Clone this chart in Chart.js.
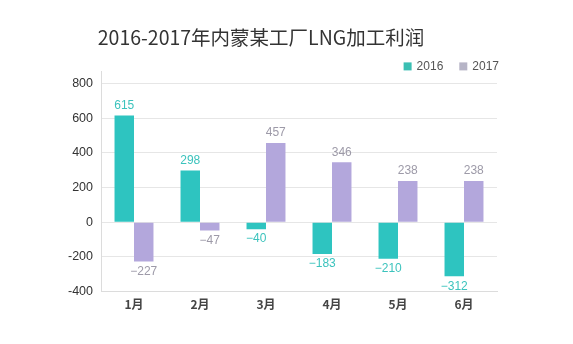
<!DOCTYPE html>
<html lang="zh">
<head>
  <meta charset="UTF-8">
  <title>2016-2017年内蒙某工厂LNG加工利润</title>
  <script src="https://cdn.jsdelivr.net/npm/chart.js"></script>
  <style>
    html, body { margin: 0; padding: 0; background: #fff; }
    #wrap { position: relative; width: 573px; height: 344px; }
  </style>
</head>
<body>
<div id="wrap"><canvas id="profitChart"></canvas></div>

<script>
  // data
  const months = ['1月', '2月', '3月', '4月', '5月', '6月'];
  const profit2016 = [615, 298, -40, -183, -210, -312];
  const profit2017 = [-227, -47, 457, 346, 238, 238];
  const yTicks = [-400, -200, 0, 200, 400, 600, 800];

  const cjk = '"Noto Sans CJK SC", "Noto Sans", sans-serif';
  const latin = '"Liberation Sans", Arial, sans-serif';
  const barColors = ['#2ec4c0', '#b3a7dc'];
  const legendColors = ['#3bbfb3', '#b6b4c6'];
  const labelColors = ['#3cc3bd', '#9d9aa8'];

  // value labels above / below each bar
  const valueLabels = {
    id: 'valueLabels',
    afterDatasetsDraw(chart) {
      const ctx = chart.ctx;
      ctx.save();
      ctx.font = '12px ' + latin;
      ctx.textAlign = 'center';
      chart.data.datasets.forEach((ds, i) => {
        chart.getDatasetMeta(i).data.forEach((bar, j) => {
          const v = ds.data[j];
          ctx.fillStyle = labelColors[i];
          if (v >= 0) {
            ctx.textBaseline = 'bottom';
            ctx.fillText(String(v), bar.x, bar.y - 4);
          } else {
            ctx.textBaseline = 'top';
            ctx.fillText('\u2212' + Math.abs(v), bar.x, bar.y + 4);
          }
        });
      });
      ctx.restore();
    }
  };

  // small legend sitting just above the top-right corner of the plot
  const cornerLegend = {
    id: 'cornerLegend',
    afterDraw(chart) {
      const ctx = chart.ctx;
      const area = chart.chartArea;
      const y = area.top - 5;
      ctx.save();
      ctx.font = '12px ' + latin;
      ctx.textBaseline = 'middle';
      let x = area.right + 2;
      const items = chart.data.datasets.map((ds, i) => ({ text: ds.label, color: legendColors[i] }));
      for (let i = items.length - 1; i >= 0; i--) {
        const w = ctx.measureText(items[i].text).width;
        x -= w;
        ctx.fillStyle = '#555';
        ctx.fillText(items[i].text, x, y);
        x -= 13;
        ctx.fillStyle = items[i].color;
        ctx.fillRect(x, y - 4, 8, 8);
        x -= 16;
      }
      ctx.restore();
    }
  };

  new Chart(document.getElementById('profitChart'), {
    type: 'bar',
    data: {
      labels: months,
      datasets: [
        { label: '2016', data: profit2016, backgroundColor: barColors[0] },
        { label: '2017', data: profit2017, backgroundColor: barColors[1] }
      ]
    },
    options: {
      responsive: true,
      maintainAspectRatio: false,
      animation: false,
      categoryPercentage: 0.59,
      barPercentage: 1.0,
      layout: { padding: { left: 25, right: 76, top: 0, bottom: 26 } },
      plugins: {
        title: {
          display: true,
          text: '2016-2017年内蒙某工厂LNG加工利润',
          color: '#333',
          font: { family: cjk, size: 19.5, weight: '400' },
          padding: { top: 26, bottom: 22 }
        },
        legend: { display: false },
        tooltip: { enabled: false }
      },
      scales: {
        x: {
          grid: { display: false, drawTicks: false },
          border: { color: '#dcdcdc' },
          ticks: { color: '#444', font: { family: cjk, size: 12, weight: 'bold' }, padding: 6 }
        },
        y: {
          min: -400,
          max: 870,
          afterBuildTicks(axis) {
            axis.ticks = yTicks.map(v => ({ value: v }));
          },
          afterFit(axis) {
            axis.width = 76;
          },
          grid: { color: '#e6e6e6', drawTicks: false },
          border: { color: '#dcdcdc' },
          ticks: { color: '#333', font: { family: latin, size: 12.5 }, padding: 8 }
        }
      }
    },
    plugins: [valueLabels, cornerLegend]
  });
</script>
</body>
</html>
